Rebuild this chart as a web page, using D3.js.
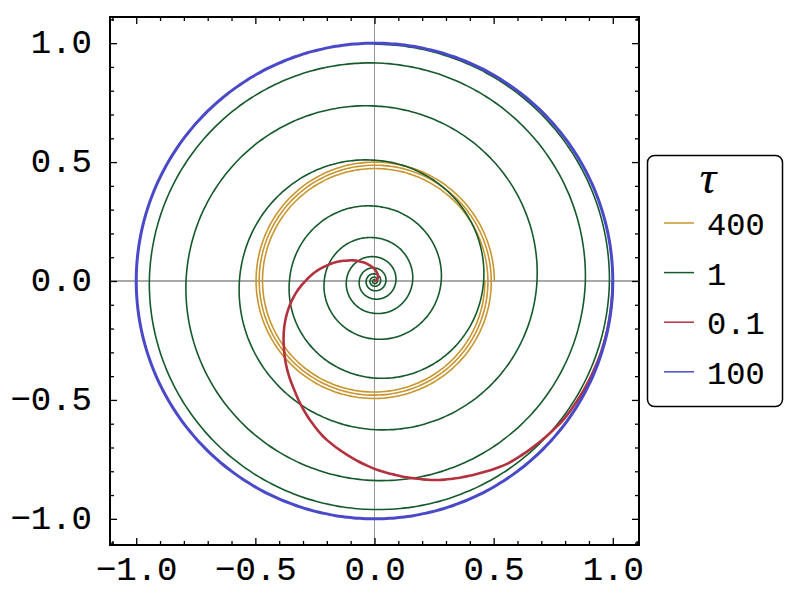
<!DOCTYPE html>
<html lang="en">
<head>
<meta charset="utf-8">
<title>tau spirals</title>
<style>
body { margin: 0; background: #fff; }
.axis text { font-family: "Liberation Mono", monospace; font-size: 34px; fill: #000; stroke: #000; stroke-width: 0.15px; }
.axis line { stroke: #000; stroke-width: 1.3px; }
.axis path { display: none; }
.legend text { font-family: "Liberation Mono", monospace; font-size: 32px; stroke: #000; stroke-width: 0.15px; }
</style>
<script src="https://cdn.jsdelivr.net/npm/d3@7"></script>
</head>
<body>
<div id="chart"></div>
<script>
var width = 790, height = 595;

// legend order = drawing order
var seriesNames = ["400", "1", "0.1", "100"];
var seriesColors = ["#c8952f", "#145a2a", "#b2323f", "#4a4ac8"];
var seriesWidths = [1.6, 1.6, 2.6, 3];

// angle in turns (counter-clockwise from +x), radius
var angle400 = [0, 0.25, 0.5, 0.75, 1, 1.25, 1.5, 1.75, 2, 2.25, 2.5, 2.75, 3];
var radius400 = [0.503, 0.500, 0.497, 0.494, 0.490, 0.487, 0.484, 0.480, 0.476, 0.473, 0.470, 0.467, 0.463];

var angle1 = [0, 0.25, 0.5, 0.75, 1, 1.25, 1.5, 1.75, 2, 2.25, 2.5, 2.75, 3, 3.25, 3.5, 3.75,
    4, 4.25, 4.5, 4.75, 5, 5.25, 5.5, 5.75, 6, 6.25, 6.5, 6.75, 7, 7.25, 7.5, 7.75,
    8, 8.25, 8.5, 8.75, 9, 9.25, 9.5, 9.75, 10, 10.25];
var radius1 = [0, 0.005, 0.008, 0.011, 0.013, 0.016, 0.019, 0.022, 0.026, 0.030, 0.035, 0.041,
    0.048, 0.055, 0.064, 0.076, 0.090, 0.102, 0.118, 0.136, 0.160, 0.182, 0.211, 0.244,
    0.280, 0.315, 0.357, 0.408, 0.458, 0.508, 0.567, 0.625, 0.682, 0.736, 0.791, 0.839,
    0.885, 0.917, 0.945, 0.961, 0.986, 0.996];

var angle01 = [0, 0.1, 0.2, 0.25, 0.3, 0.35, 0.4, 0.45, 0.5, 0.55, 0.6, 0.65, 0.7, 0.75,
    0.8, 0.85, 0.9, 0.95, 1];
var radius01 = [0, 0.015, 0.035, 0.05, 0.07, 0.10, 0.145, 0.21, 0.29, 0.38, 0.47, 0.57, 0.69, 0.79,
    0.88, 0.95, 0.985, 0.997, 1];

var angle100 = [0, 0.25, 0.5, 0.75, 1];
var radius100 = [1, 1, 1, 1, 1];

var seriesAngles = [angle400, angle1, angle01, angle100];
var seriesRadii = [radius400, radius1, radius01, radius100];

var majorTicks = [-1.0, -0.5, 0.0, 0.5, 1.0];
var minorTicks = [-1.1, -0.9, -0.8, -0.7, -0.6, -0.4, -0.3, -0.2, -0.1, 0.1, 0.2, 0.3, 0.4, 0.6, 0.7, 0.8, 0.9, 1.1];

// plot frame (window.top is reserved, so use other names)
var frameLeft = 110, frameRight = 639, frameTop = 17, frameBottom = 545;

var xScale = d3.scaleLinear().domain([-1.11, 1.11]).range([frameLeft, frameRight]);
var yScale = d3.scaleLinear().domain([-1.11, 1.11]).range([frameBottom, frameTop]);

var svg = d3.select('#chart')
    .append('svg')
    .attr('width', width)
    .attr('height', height);

svg.append('defs').append('clipPath').attr('id', 'plotClip')
    .append('rect')
    .attr('x', frameLeft).attr('y', frameTop)
    .attr('width', frameRight - frameLeft).attr('height', frameBottom - frameTop);

// zero lines
svg.append('line')
    .attr('x1', xScale(0)).attr('x2', xScale(0))
    .attr('y1', frameTop).attr('y2', frameBottom)
    .attr('stroke', '#999').attr('stroke-width', 1);
svg.append('line')
    .attr('x1', frameLeft).attr('x2', frameRight)
    .attr('y1', yScale(0)).attr('y2', yScale(0))
    .attr('stroke', '#555').attr('stroke-width', 1);

// curves
var plot = svg.append('g').attr('clip-path', 'url(#plotClip)');

seriesNames.forEach(function(name, i) {
    var angles = seriesAngles[i];
    var rScale = d3.scaleLinear().domain(angles).range(seriesRadii[i]);
    var steps = d3.range(0, angles[angles.length - 1], 0.004).concat([angles[angles.length - 1]]);
    var line = d3.line()
        .x(function(t) { return xScale(rScale(t) * Math.cos(2 * Math.PI * t)); })
        .y(function(t) { return yScale(rScale(t) * Math.sin(2 * Math.PI * t)); })
        .curve(d3.curveBasis);
    plot.append('path')
        .datum(steps)
        .attr('d', line)
        .attr('fill', 'none')
        .attr('stroke', seriesColors[i])
        .attr('stroke-width', seriesWidths[i])
        .attr('stroke-linejoin', 'round');
});

// axes, ticks pointing inward
var fmt = d3.format('.1f');

svg.append('g').attr('class', 'axis')
    .attr('transform', 'translate(0,' + frameBottom + ')')
    .call(d3.axisBottom(xScale).tickValues(majorTicks).tickFormat(fmt).tickSize(-7).tickPadding(11));
svg.append('g').attr('class', 'axis')
    .attr('transform', 'translate(0,' + frameBottom + ')')
    .call(d3.axisBottom(xScale).tickValues(minorTicks).tickFormat('').tickSize(-4));
svg.append('g').attr('class', 'axis')
    .attr('transform', 'translate(0,' + frameTop + ')')
    .call(d3.axisTop(xScale).tickValues(majorTicks).tickFormat('').tickSize(-7));
svg.append('g').attr('class', 'axis')
    .attr('transform', 'translate(0,' + frameTop + ')')
    .call(d3.axisTop(xScale).tickValues(minorTicks).tickFormat('').tickSize(-4));

svg.append('g').attr('class', 'axis')
    .attr('transform', 'translate(' + frameLeft + ',0)')
    .call(d3.axisLeft(yScale).tickValues(majorTicks).tickFormat(fmt).tickSize(-7).tickPadding(18))
    .selectAll('text').attr('dy', '0.28em');
svg.append('g').attr('class', 'axis')
    .attr('transform', 'translate(' + frameLeft + ',0)')
    .call(d3.axisLeft(yScale).tickValues(minorTicks).tickFormat('').tickSize(-4));
svg.append('g').attr('class', 'axis')
    .attr('transform', 'translate(' + frameRight + ',0)')
    .call(d3.axisRight(yScale).tickValues(majorTicks).tickFormat('').tickSize(-7));
svg.append('g').attr('class', 'axis')
    .attr('transform', 'translate(' + frameRight + ',0)')
    .call(d3.axisRight(yScale).tickValues(minorTicks).tickFormat('').tickSize(-4));

// frame
svg.append('rect')
    .attr('x', frameLeft).attr('y', frameTop)
    .attr('width', frameRight - frameLeft).attr('height', frameBottom - frameTop)
    .attr('fill', 'none')
    .attr('stroke', '#000')
    .attr('stroke-width', 2);

// legend
var legend = svg.append('g').attr('class', 'legend');
legend.append('rect')
    .attr('x', 647.5).attr('y', 155.5)
    .attr('width', 135).attr('height', 251)
    .attr('rx', 7).attr('ry', 7)
    .attr('fill', '#fff')
    .attr('stroke', '#000')
    .attr('stroke-width', 1.5);
legend.append('text')
    .attr('x', 708).attr('y', 193)
    .attr('text-anchor', 'middle')
    .style('font-family', '"Liberation Serif", serif')
    .style('font-style', 'italic')
    .style('font-size', '46px')
    .style('stroke-width', '0.2px')
    .text('τ');

seriesNames.forEach(function(name, i) {
    var cy = 223 + i * 49.6;
    legend.append('line')
        .attr('x1', 664).attr('x2', 694)
        .attr('y1', cy).attr('y2', cy)
        .attr('stroke', seriesColors[i])
        .attr('stroke-width', 1.5);
    legend.append('text')
        .attr('x', 707).attr('y', cy + 12)
        .text(name);
});
</script>
</body>
</html>
